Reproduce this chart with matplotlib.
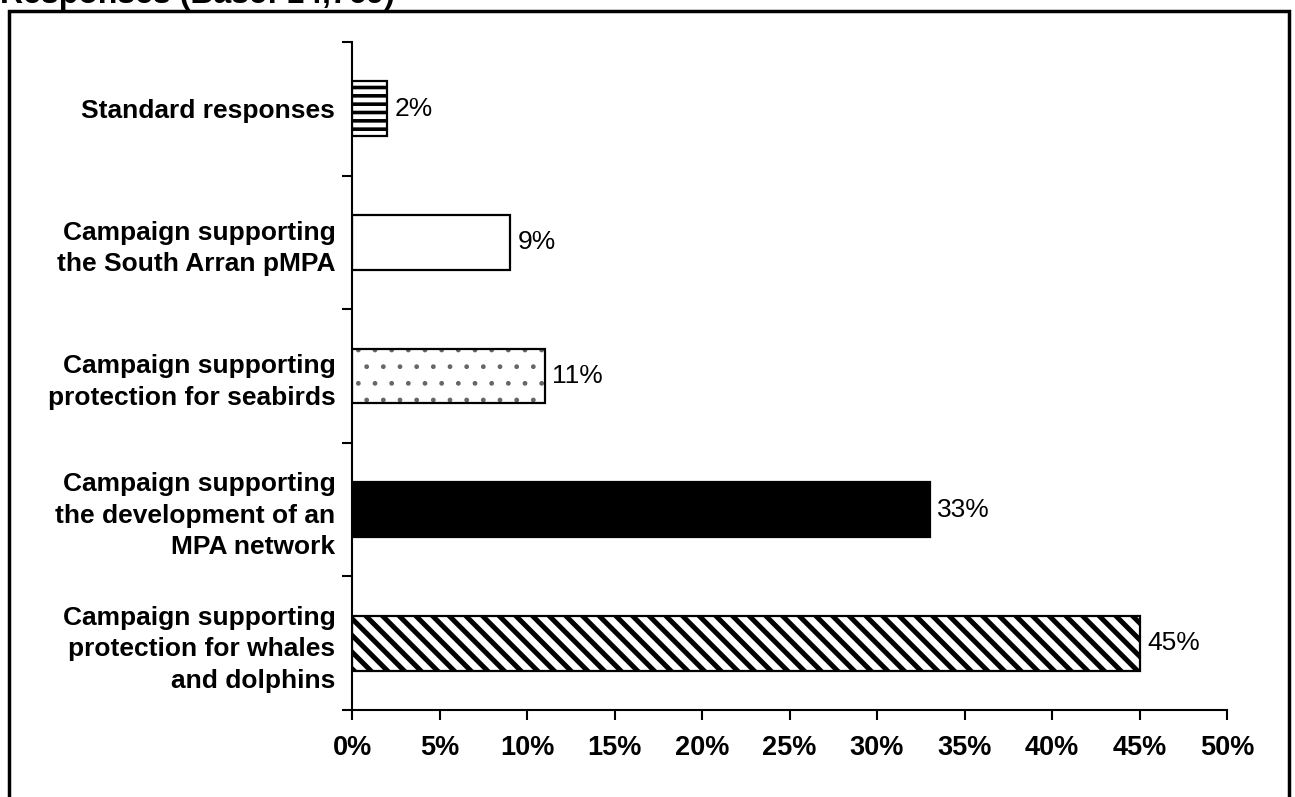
import matplotlib.pyplot as plt
from matplotlib.patches import Rectangle
from matplotlib.ticker import FuncFormatter

categories = [
    "Standard responses",
    "Campaign supporting\nthe South Arran pMPA",
    "Campaign supporting\nprotection for seabirds",
    "Campaign supporting\nthe development of an\nMPA network",
    "Campaign supporting\nprotection for whales\nand dolphins",
]
values = [2, 9, 11, 33, 45]
value_labels = ["2%", "9%", "11%", "33%", "45%"]
x_ticks = [0, 5, 10, 15, 20, 25, 30, 35, 40, 45, 50]

faces = ["white", "white", "white", "black", "white"]
hatches = ["--", None, ".", None, "\\\\"]
hatch_colors = ["black", "black", "#666666", "black", "black"]
hatch_lw = [2.6, 1.0, 1.0, 1.0, 3.6]

plt.rcParams["font.family"] = ["Liberation Sans", "DejaVu Sans"]
plt.rcParams["hatch.linewidth"] = 2.6

fig = plt.figure(figsize=(12.95, 7.97), dpi=100)
ax = fig.add_axes([352 / 1295, 1 - 710 / 797, 875 / 1295, 668 / 797])

ypos = list(range(len(categories)))
for i, v in enumerate(values):
    # hatch layer, then a black outline on top
    bars = ax.barh(i, v, height=0.41, color=faces[i], edgecolor=hatch_colors[i],
                   hatch=hatches[i], linewidth=0)
    for b in bars:
        try:
            b.set_hatch_linewidth(hatch_lw[i])
        except AttributeError:
            pass
    ax.barh(i, v, height=0.41, fill=False, edgecolor="black", linewidth=1.6)
    ax.text(v + 0.45, i, value_labels[i], va="center", ha="left", fontsize=19)

ax.set_ylim(len(categories) - 0.5, -0.5)
ax.set_xlim(0, 50)
ax.set_xticks(x_ticks)
ax.xaxis.set_major_formatter(FuncFormatter(lambda x, p: f"{int(x)}%"))
ax.set_yticks([y - 0.5 for y in ypos] + [len(categories) - 0.5])
ax.set_yticklabels([])
ax.set_yticks(ypos, minor=True)
ax.set_yticklabels(categories, minor=True, fontsize=19, fontweight="bold",
                   ha="right", linespacing=1.38)
ax.tick_params(axis="y", which="minor", length=0, pad=12)
ax.tick_params(axis="y", which="major", length=7, width=1.5)
ax.tick_params(axis="x", length=7, width=1.5, pad=11, labelsize=19.5)
for lbl in ax.get_xticklabels():
    lbl.set_fontweight("bold")

ax.spines["top"].set_visible(False)
ax.spines["right"].set_visible(False)
ax.spines["left"].set_linewidth(1.5)
ax.spines["bottom"].set_linewidth(1.5)

# outer frame, bottom edge runs off the image
frame = Rectangle((9 / 1295, -0.05), 1280 / 1295, 1.05 - 11 / 797,
                  transform=fig.transFigure, fill=False, edgecolor="black",
                  linewidth=2.5, clip_on=False)
fig.patches.append(frame)

# title sits mostly above the top edge, as in the source image
fig.text(0, 1 - 3 / 797, "Responses (Base: 14,769)", fontsize=23,
         fontweight="bold", va="baseline", ha="left")

fig.savefig("out.png", dpi=100)
